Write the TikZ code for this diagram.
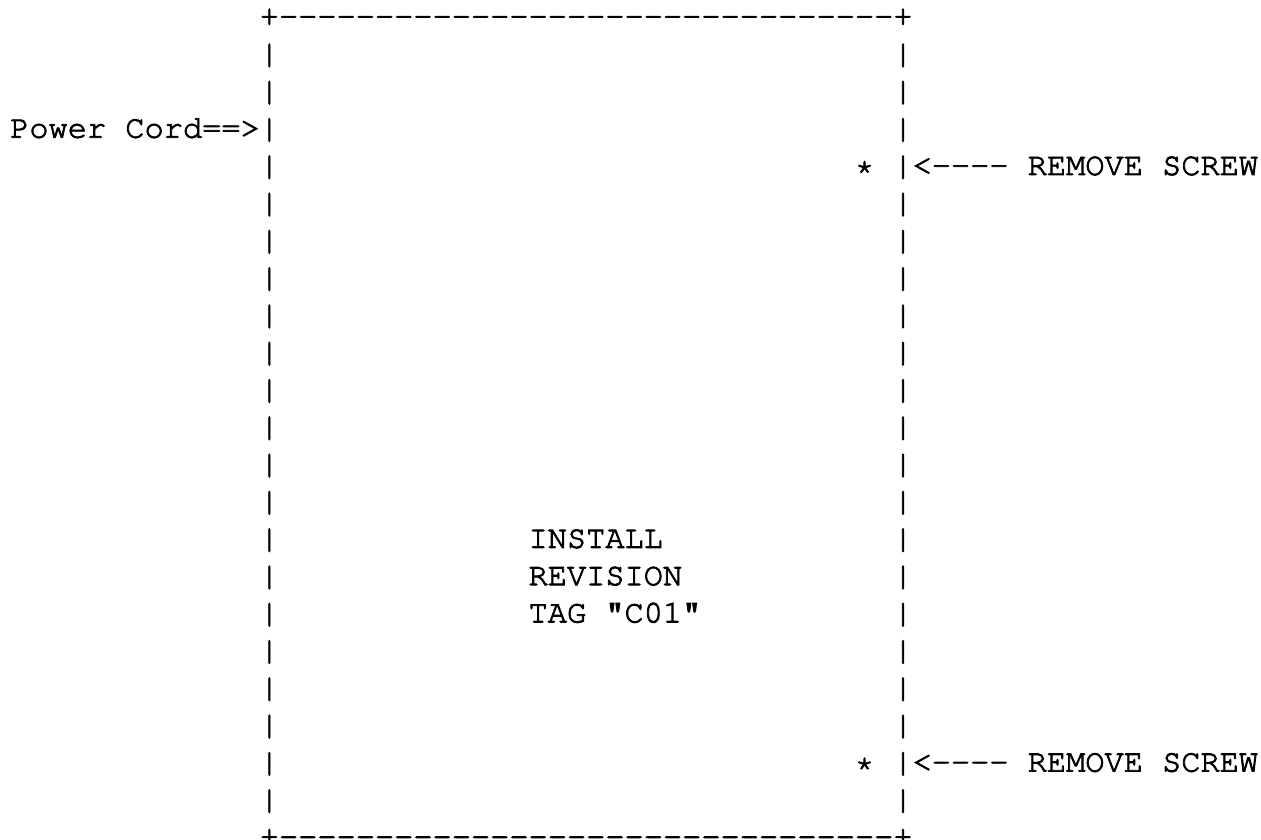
\documentclass[tikz,border=0pt]{standalone}
\usepackage[T1]{fontenc}
\usepackage{courier}
\usepackage{tikz}
\definecolor{ink}{HTML}{000000}

\begin{document}
\special{pdf:literal direct 2 Tr}%
\begin{tikzpicture}[x=9.6pt,y=-18.645pt,
  ascii/.style={anchor=base west,inner sep=0pt,text=ink,
    font=\ttfamily\fontsize{16}{18.645}\selectfont}]
\useasboundingbox (-0.51,-0.692) rectangle (65.17,21.834);
% outline of the unit
\node[ascii] (tl) at (13,0) {+};
\node[ascii] (tr) at (46,0) {+};
\node[ascii] (bl) at (13,22) {+};
\node[ascii] (br) at (46,22) {+};
\foreach \col in {14,...,45}{
  \node[ascii] (t\col) at (\col,0) {-};
  \node[ascii] (b\col) at (\col,22) {-};
}
\foreach \row in {1,...,21}{
  \node[ascii] (l\row) at (13,\row) {|};
  \node[ascii] (r\row) at (46,\row) {|};
}
% labels
\node[ascii] (cord) at (0,3) {Power Cord==>};
\foreach \row [count=\i] in {4,20}{
  \node[ascii] (star\i) at (44,\row) {*};
  \node[ascii] (screw\i) at (47,\row) {<-{}-{}-{}- REMOVE SCREW};
}
\node[ascii] (tag1) at (27,14) {INSTALL};
\node[ascii] (tag2) at (27,15) {REVISION};
\node[ascii] (tag3) at (27,16) {TAG "C01"};
\end{tikzpicture}
\end{document}
